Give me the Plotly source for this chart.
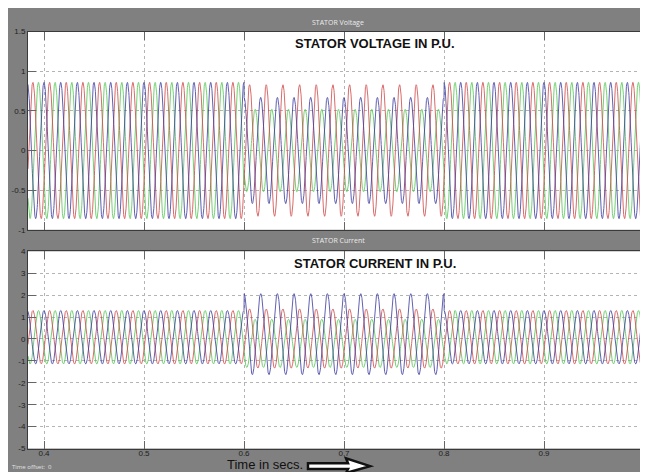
import numpy as np
import plotly.graph_objects as go

# ---- data ----
segment_bounds = [0.384, 0.6, 0.8, 1.012]      # s : pre-fault, fault, post-fault
freq_hz = 60.0
phase_deg_blue, phase_deg_red, phase_deg_green = [90.0, -30.0, 210.0]

volt_amp_blue = [0.86, 0.67, 0.86]
volt_amp_red = [0.86, 0.83, 0.86]
volt_amp_green = [0.86, 0.52, 0.86]

curr_amp_blue = [1.22, 1.85, 1.22]
curr_off_blue = [0.08, 0.22, 0.08]
curr_amp_red = [1.22, 1.35, 1.22]
curr_off_red = [0.08, 0.02, 0.08]
curr_amp_green = [1.22, 1.10, 1.22]
curr_off_green = [0.08, -0.20, 0.08]

x_ticks = [0.4, 0.5, 0.6, 0.7, 0.8, 0.9, 1.0]
x_tick_text = ["0.4", "0.5", "0.6", "0.7", "0.8", "0.9", "1"]
v_ticks = [-1, -0.5, 0, 0.5, 1, 1.5]
v_tick_text = ["-1", "-0.5", "0", "0.5", "1", "1.5"]
i_ticks = [-5, -4, -3, -2, -1, 0, 1, 2, 3, 4]
i_tick_text = ["-5", "-4", "-3", "-2", "-1", "0", "1", "2", "3", "4"]

colors = {"blue": "#3a3aa0", "red": "#d04848", "green": "#52c852"}

t = np.arange(segment_bounds[0], segment_bounds[-1], 0.0002)
seg = np.clip(np.searchsorted(segment_bounds, t, side="right") - 1, 0, 2)


def wave(amps, offs, phase_deg):
    a = np.asarray(amps)[seg]
    o = np.asarray(offs)[seg]
    return o + a * np.sin(2 * np.pi * freq_hz * t + np.deg2rad(phase_deg))


zeros = [0, 0, 0]
fig = go.Figure()
for name, va, ca, co, ph in [
    ("green", volt_amp_green, curr_amp_green, curr_off_green, phase_deg_green),
    ("red", volt_amp_red, curr_amp_red, curr_off_red, phase_deg_red),
    ("blue", volt_amp_blue, curr_amp_blue, curr_off_blue, phase_deg_blue),
]:
    fig.add_trace(go.Scatter(x=t, y=wave(va, zeros, ph), mode="lines",
                             line=dict(color=colors[name], width=1),
                             opacity=0.8, xaxis="x", yaxis="y", showlegend=False))
    fig.add_trace(go.Scatter(x=t, y=wave(ca, co, ph), mode="lines",
                             line=dict(color=colors[name], width=1),
                             opacity=0.8, xaxis="x2", yaxis="y2", showlegend=False))

W, H = 648, 472
top_dom = [(H - 222) / H, (H - 20) / H]
bot_dom = [(H - 445) / H, (H - 244) / H]
x_dom = [20 / W, 1.0]

axis_common = dict(showgrid=True, gridcolor="#b4b4b4", griddash="dot", gridwidth=1,
                   ticks="inside", ticklen=8, tickcolor="#666666",
                   showline=True, linecolor="#3a3a3a", linewidth=1,
                   zeroline=False, tickfont=dict(size=8, color="#1e1e1e",
                                                 family="Liberation Sans, Arial"))

fig.update_layout(
    width=W, height=H, margin=dict(l=0, r=0, t=0, b=0),
    paper_bgcolor="#808080", plot_bgcolor="#ffffff",
    xaxis=dict(domain=x_dom, range=[segment_bounds[0], segment_bounds[-1]], anchor="y",
               tickvals=x_ticks, ticktext=x_tick_text, showticklabels=False, mirror="ticks",
               **axis_common),
    yaxis=dict(domain=top_dom, range=[-1, 1.5], anchor="x",
               tickvals=v_ticks, ticktext=v_tick_text, **axis_common),
    xaxis2=dict(domain=x_dom, range=[segment_bounds[0], segment_bounds[-1]], anchor="y2",
                tickvals=x_ticks, ticktext=x_tick_text, mirror="ticks",
                ticklabelstandoff=-3, **axis_common),
    yaxis2=dict(domain=bot_dom, range=[-5, 4], anchor="x2",
                tickvals=i_ticks, ticktext=i_tick_text, **axis_common),
)

bold = "Liberation Sans, Arial"
anns = [
    dict(text="STATOR Voltage", x=330 / W, y=(H - 11) / H, font=dict(size=7, color="#ececec")),
    dict(text="STATOR Current", x=330 / W, y=(H - 233) / H, font=dict(size=7, color="#ececec")),
    dict(text="<b>STATOR VOLTAGE IN P.U.</b>", x=367 / W, y=(H - 32) / H,
         font=dict(size=13, color="#111111", family=bold)),
    dict(text="<b>STATOR CURRENT IN P.U.</b>", x=367 / W, y=(H - 256) / H,
         font=dict(size=13, color="#111111", family=bold)),
    dict(text="Time in secs.", x=257 / W, y=(H - 461.5) / H,
         font=dict(size=13, color="#111111", family=bold)),
    dict(text="Time offset:  0", x=2 / W, y=(H - 464) / H, xanchor="left",
         font=dict(size=6, color="#e0e0e0")),
]
for a in anns:
    a.setdefault("xanchor", "center")
    fig.add_annotation(xref="paper", yref="paper", showarrow=False, yanchor="middle", **a)


def px(x, y):
    return f"{x / W:.5f},{(H - y) / H:.5f}"


# hollow arrow next to the time label
arrow = ("M " + px(300, 460) + " L " + px(340, 460) + " L " + px(338, 455) + " L " + px(362, 463)
         + " L " + px(338, 470) + " L " + px(340, 466) + " L " + px(300, 466) + " Z")
fig.add_shape(type="path", xref="paper", yref="paper", path=arrow,
              line=dict(color="#111111", width=2.5), fillcolor="#ffffff")

fig.write_html("out.html")
